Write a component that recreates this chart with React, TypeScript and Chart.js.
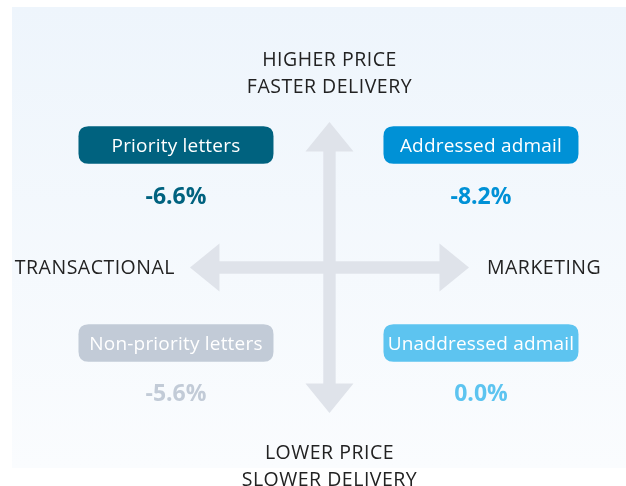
import React, { useEffect, useRef } from "react";
import { Chart, registerables } from "chart.js";

Chart.register(...registerables);

// ---- data ----
const categories = ["Priority letters", "Addressed admail", "Non-priority letters", "Unaddressed admail"];
const changes = [-6.6, -8.2, -5.6, 0.0];
const quadrantX = [-1, 1, -1, 1]; // -1 = transactional, 1 = marketing
const quadrantY = [1, 1, -1, -1]; // 1 = higher price / faster, -1 = lower price / slower
const colors = ["#00627f", "#0091d6", "#c2cbd7", "#5dc4f0"];
const topLabel = ["HIGHER PRICE", "FASTER DELIVERY"];
const bottomLabel = ["LOWER PRICE", "SLOWER DELIVERY"];
const leftLabel = "TRANSACTIONAL";
const rightLabel = "MARKETING";

const FONT = "'Open Sans', 'Noto Sans', sans-serif";

function roundRect(ctx: CanvasRenderingContext2D, x: number, y: number, w: number, h: number, r: number) {
  ctx.beginPath();
  ctx.moveTo(x + r, y);
  ctx.lineTo(x + w - r, y);
  ctx.quadraticCurveTo(x + w, y, x + w, y + r);
  ctx.lineTo(x + w, y + h - r);
  ctx.quadraticCurveTo(x + w, y + h, x + w - r, y + h);
  ctx.lineTo(x + r, y + h);
  ctx.quadraticCurveTo(x, y + h, x, y + h - r);
  ctx.lineTo(x, y + r);
  ctx.quadraticCurveTo(x, y, x + r, y);
  ctx.closePath();
}

const quadrantPlugin = {
  id: "quadrantPlugin",
  beforeDraw(chart: any) {
    const ctx: CanvasRenderingContext2D = chart.ctx;
    ctx.save();
    ctx.fillStyle = "#ffffff";
    ctx.fillRect(0, 0, chart.width, chart.height);
    const g = ctx.createLinearGradient(0, 7, 0, 468);
    g.addColorStop(0, "#eef5fc");
    g.addColorStop(1, "#fafcfe");
    ctx.fillStyle = g;
    ctx.fillRect(12, 7, chart.width - 12, 461);
    ctx.restore();
  },
  afterDatasetsDraw(chart: any) {
    const ctx: any = chart.ctx;
    const xs = chart.scales.x;
    const ys = chart.scales.y;
    const cx = xs.getPixelForValue(0) + 1;
    const cy = ys.getPixelForValue(0) - 1.5;

    // arrows
    const vLen = 145.5, hLen = 139.5, head = 29.5, headHalf = 24, shaft = 6.2;
    ctx.save();
    ctx.fillStyle = "#dfe3ea";
    ctx.beginPath();
    ctx.moveTo(cx, cy - vLen);
    ctx.lineTo(cx + headHalf, cy - vLen + head);
    ctx.lineTo(cx + shaft, cy - vLen + head);
    ctx.lineTo(cx + shaft, cy + vLen - head);
    ctx.lineTo(cx + headHalf, cy + vLen - head);
    ctx.lineTo(cx, cy + vLen);
    ctx.lineTo(cx - headHalf, cy + vLen - head);
    ctx.lineTo(cx - shaft, cy + vLen - head);
    ctx.lineTo(cx - shaft, cy - vLen + head);
    ctx.lineTo(cx - headHalf, cy - vLen + head);
    ctx.closePath();
    ctx.fill();
    ctx.beginPath();
    ctx.moveTo(cx - hLen, cy);
    ctx.lineTo(cx - hLen + head, cy - headHalf);
    ctx.lineTo(cx - hLen + head, cy - shaft);
    ctx.lineTo(cx + hLen - head, cy - shaft);
    ctx.lineTo(cx + hLen - head, cy - headHalf);
    ctx.lineTo(cx + hLen, cy);
    ctx.lineTo(cx + hLen - head, cy + headHalf);
    ctx.lineTo(cx + hLen - head, cy + shaft);
    ctx.lineTo(cx - hLen + head, cy + shaft);
    ctx.lineTo(cx - hLen + head, cy + headHalf);
    ctx.closePath();
    ctx.fill();

    // axis labels
    ctx.fillStyle = "#222222";
    ctx.font = `19.5px ${FONT}`;
    ctx.letterSpacing = "0.5px";
    ctx.textBaseline = "alphabetic";
    ctx.textAlign = "center";
    ctx.fillText(topLabel[0], cx, cy - vLen - 56);
    ctx.fillText(topLabel[1], cx, cy - vLen - 29.3);
    ctx.fillText(bottomLabel[0], cx, cy + vLen + 46.3);
    ctx.fillText(bottomLabel[1], cx, cy + vLen + 72.5);
    ctx.textAlign = "right";
    ctx.fillText(leftLabel, cx - hLen - 15, cy + 6);
    ctx.textAlign = "left";
    ctx.fillText(rightLabel, cx + hLen + 18, cy + 6);

    // quadrant boxes
    const meta = chart.getDatasetMeta(0);
    const boxW = 195, boxH = 37.5;
    meta.data.forEach((pt: any, i: number) => {
      const bx = pt.x;
      const by = pt.y - 25;
      ctx.fillStyle = colors[i];
      roundRect(ctx, bx - boxW / 2, by - boxH / 2, boxW, boxH, 10);
      ctx.fill();
      ctx.fillStyle = "#ffffff";
      ctx.font = `19px ${FONT}`;
      ctx.letterSpacing = "0.2px";
      ctx.textAlign = "center";
      ctx.fillText(categories[i], bx, by + 7);
      ctx.fillStyle = colors[i];
      ctx.font = `bold 23px ${FONT}`;
      ctx.letterSpacing = "0px";
      ctx.fillText(`${changes[i].toFixed(1)}%`, bx, pt.y + 33.5);
    });
    ctx.restore();
  },
};

export default function App() {
  const ref = useRef<HTMLCanvasElement | null>(null);
  useEffect(() => {
    if (!ref.current) return;
    const chart = new Chart(ref.current, {
      type: "scatter",
      data: {
        datasets: [
          {
            label: "Volume change",
            data: categories.map((_, i) => ({ x: quadrantX[i], y: quadrantY[i] })),
            pointRadius: 0,
            pointHoverRadius: 0,
            backgroundColor: colors,
          },
        ],
      },
      options: {
        responsive: false,
        animation: false,
        events: [],
        layout: { padding: 0 },
        plugins: { legend: { display: false }, tooltip: { enabled: false }, title: { display: false } },
        scales: {
          x: { type: "linear", display: false, min: -2.154, max: 1.951 },
          y: { type: "linear", display: false, min: -2.194, max: 2.72 },
        },
      },
      plugins: [quadrantPlugin],
    });
    return () => chart.destroy();
  }, []);
  return (
    <div style={{ position: "fixed", left: 0, top: 0, width: 626, height: 486 }}>
      <canvas ref={ref} width={626} height={486} />
    </div>
  );
}
